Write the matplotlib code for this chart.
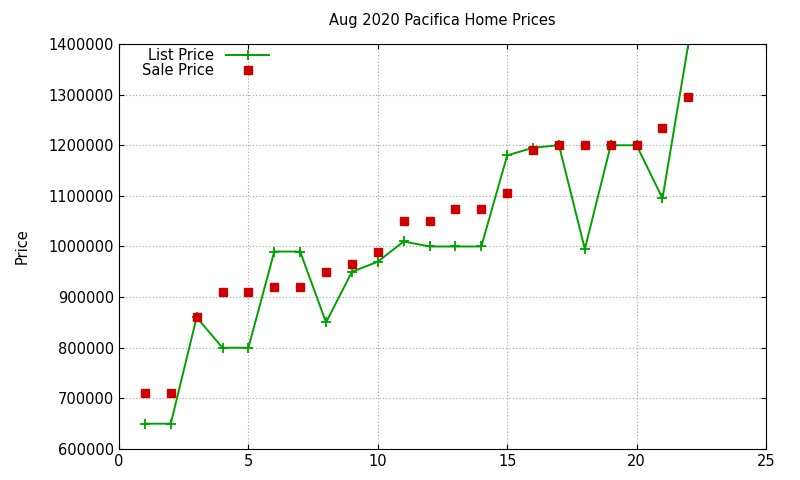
import matplotlib
matplotlib.use("Agg")
import matplotlib.pyplot as plt

# Aug 2020 Pacifica listings
house = list(range(1, 23))
list_price = [650000, 650000, 860000, 800000, 800000, 990000, 990000, 850000,
              950000, 970000, 1010000, 1000000, 1000000, 1000000, 1180000,
              1195000, 1200000, 995000, 1200000, 1200000, 1095000, 1400000]
sale_price = [710000, 710000, 860000, 910000, 910000, 920000, 920000, 950000,
              965000, 990000, 1050000, 1050000, 1075000, 1075000, 1105000,
              1190000, 1200000, 1200000, 1200000, 1200000, 1235000, 1295000]

fig = plt.figure(figsize=(8, 4.8), dpi=100)
ax = fig.add_axes([119/800, 1 - 449/480, (766-119)/800, (449-44)/480])

ax.plot(house, list_price, color="#00a000", marker="+", markersize=7,
        markeredgewidth=1.3, linewidth=1.4, label="List Price")
ax.plot(house, sale_price, linestyle="none", marker="s", markersize=5.5,
        color="#cc0000", label="Sale Price")

ax.set_xlim(0, 25)
ax.set_ylim(600000, 1400000)
ax.set_xticks(range(0, 26, 5))
ax.set_yticks(range(600000, 1400001, 100000))
ax.ticklabel_format(style="plain", axis="y")
ax.tick_params(direction="in", labelsize=10.5, top=True, right=True)
ax.grid(True, color="#a0a0a0", linestyle=(0, (1, 2)), linewidth=0.8)
ax.set_ylabel("Price", fontsize=10.5, labelpad=14)
ax.set_title("Aug 2020 Pacifica Home Prices", fontsize=10.5, pad=14)

leg = ax.legend(loc="upper left", bbox_to_anchor=(0.02, 1.015), frameon=False,
                markerfirst=False, fontsize=10.5, handlelength=3,
                borderpad=0.2, labelspacing=0.0)
for t in leg.get_texts():
    t.set_ha("right")
    t.set_position((0, 0))

fig.savefig("out.png", dpi=100)
